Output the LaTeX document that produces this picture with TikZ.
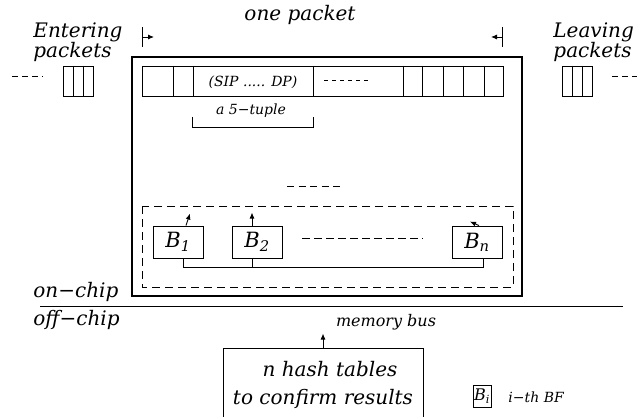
\documentclass[tikz,border=0pt]{standalone}
\usepackage{fontspec}
\setmainfont{DejaVu Serif}
\usetikzlibrary{arrows.meta}

\begin{document}
\begin{tikzpicture}[x=1pt,y=-1pt, line width=0.9pt, >={Latex[length=6pt,width=5pt]},
  lbl/.style={inner sep=0pt, font=\itshape\fontsize{20}{17}\selectfont},
  small/.style={inner sep=0pt, font=\itshape\fontsize{14}{15}\selectfont},
  bfbox/.style={draw, inner sep=0pt, minimum width=50pt, minimum height=32pt, font=\itshape\fontsize{21}{21}\selectfont},
  pkbox/.style={draw, inner sep=0pt, minimum width=30pt, minimum height=30pt}]
\useasboundingbox (0,0) rectangle (637,417);

% the on-chip part
\node (chip) [draw, line width=1.4pt, inner sep=0pt, minimum width=390pt, minimum height=239pt] at (327,176.5) {};
\node (one) at (300,15) [lbl] {one packet};
\coordinate (pl) at (142,37);
\coordinate (pr) at (503,37);
\draw[{Bar[width=20pt]}->] (pl) -- ++(12,0);
\draw[{Bar[width=20pt]}->] (pr) -- ++(-12,0);

% packet fields
\node (row) [draw, inner sep=0pt, minimum width=361pt, minimum height=30pt] at (322.5,81) {};
\foreach \x in {173,193,313,403,422,443,463,484}
  \draw (\x,66) -- (\x,96);
\node (tuple) at (253,82) [small] {(SIP ..... DP)};
\draw[dash pattern=on 4pt off 4pt] (324,80) -- (368,80);
\node (five) at (251,111) [small] {a 5−tuple};
\draw (192,117) -- (192,127) -- (313,127) -- (313,117);

\draw[dash pattern=on 7pt off 4.5pt] (287,186) -- (343,186);

% bloom filters
\draw[dash pattern=on 8pt off 5pt] (142,206) rectangle (513,287);
\node (b1) at (178,242) [bfbox] {B\textsubscript{1}};
\node (b2) at (257,242) [bfbox] {B\textsubscript{2}};
\node (bn) at (477,242) [bfbox] {B\textsubscript{n}};
\draw[dash pattern=on 8pt off 4pt] (302,238) -- (423,238);
\draw ([xshift=5pt]b1.south) -- ++(0,9) -| ([xshift=6pt]bn.south);
\draw ([xshift=-5pt]b2.south) -- ++(0,9);
\draw[->] ([xshift=8pt]b1.north) -- ++(4,-12);
\draw[->] ([xshift=-5pt]b2.north) -- ++(0,-13);
\draw[->] ([xshift=2pt]bn.north) -- ++(-9,-4);

% packets coming in and going out
\node (enter) at (33,22) [lbl, anchor=north west, align=left] {Entering\\packets};
\node (inbox) at (78,81) [pkbox] {};
\foreach \x in {73,83}
  \draw (\x,66) -- (\x,96);
\draw[dash pattern=on 6pt off 4pt] (12,76) -- (43,76);
\node (leave) at (553,22) [lbl, anchor=north west, align=left] {Leaving\\packets};
\node (outbox) at (577,81) [pkbox] {};
\foreach \x in {572,582}
  \draw (\x,66) -- (\x,96);
\draw[dash pattern=on 6pt off 4pt] (612,76) -- (637,76);

% chip boundary
\draw (40,306) -- (623,306);
\node (on) at (33,297) [lbl, anchor=base west] {on−chip};
\node (off) at (33,325) [lbl, anchor=base west] {off−chip};

% off-chip memory
\node (hash) at (323,385) [draw, inner sep=0pt, minimum width=200pt, minimum height=74pt, align=center, font=\itshape\fontsize{20}{28}\selectfont] {\hspace*{14pt}n hash tables\\to confirm results};
\draw[->] (hash.north) -- ++(0,-14);
\node (bus) at (386,322) [small, font=\itshape\fontsize{16}{16}\selectfont] {memory bus};

% legend
\node (bi) at (482,396) [draw, inner sep=0pt, minimum width=18pt, minimum height=22pt, font=\itshape\fontsize{16}{16}\selectfont] {B\textsubscript{i}};
\node (bf) at (508,397) [small, anchor=west] {i−th BF};
\end{tikzpicture}
\end{document}
